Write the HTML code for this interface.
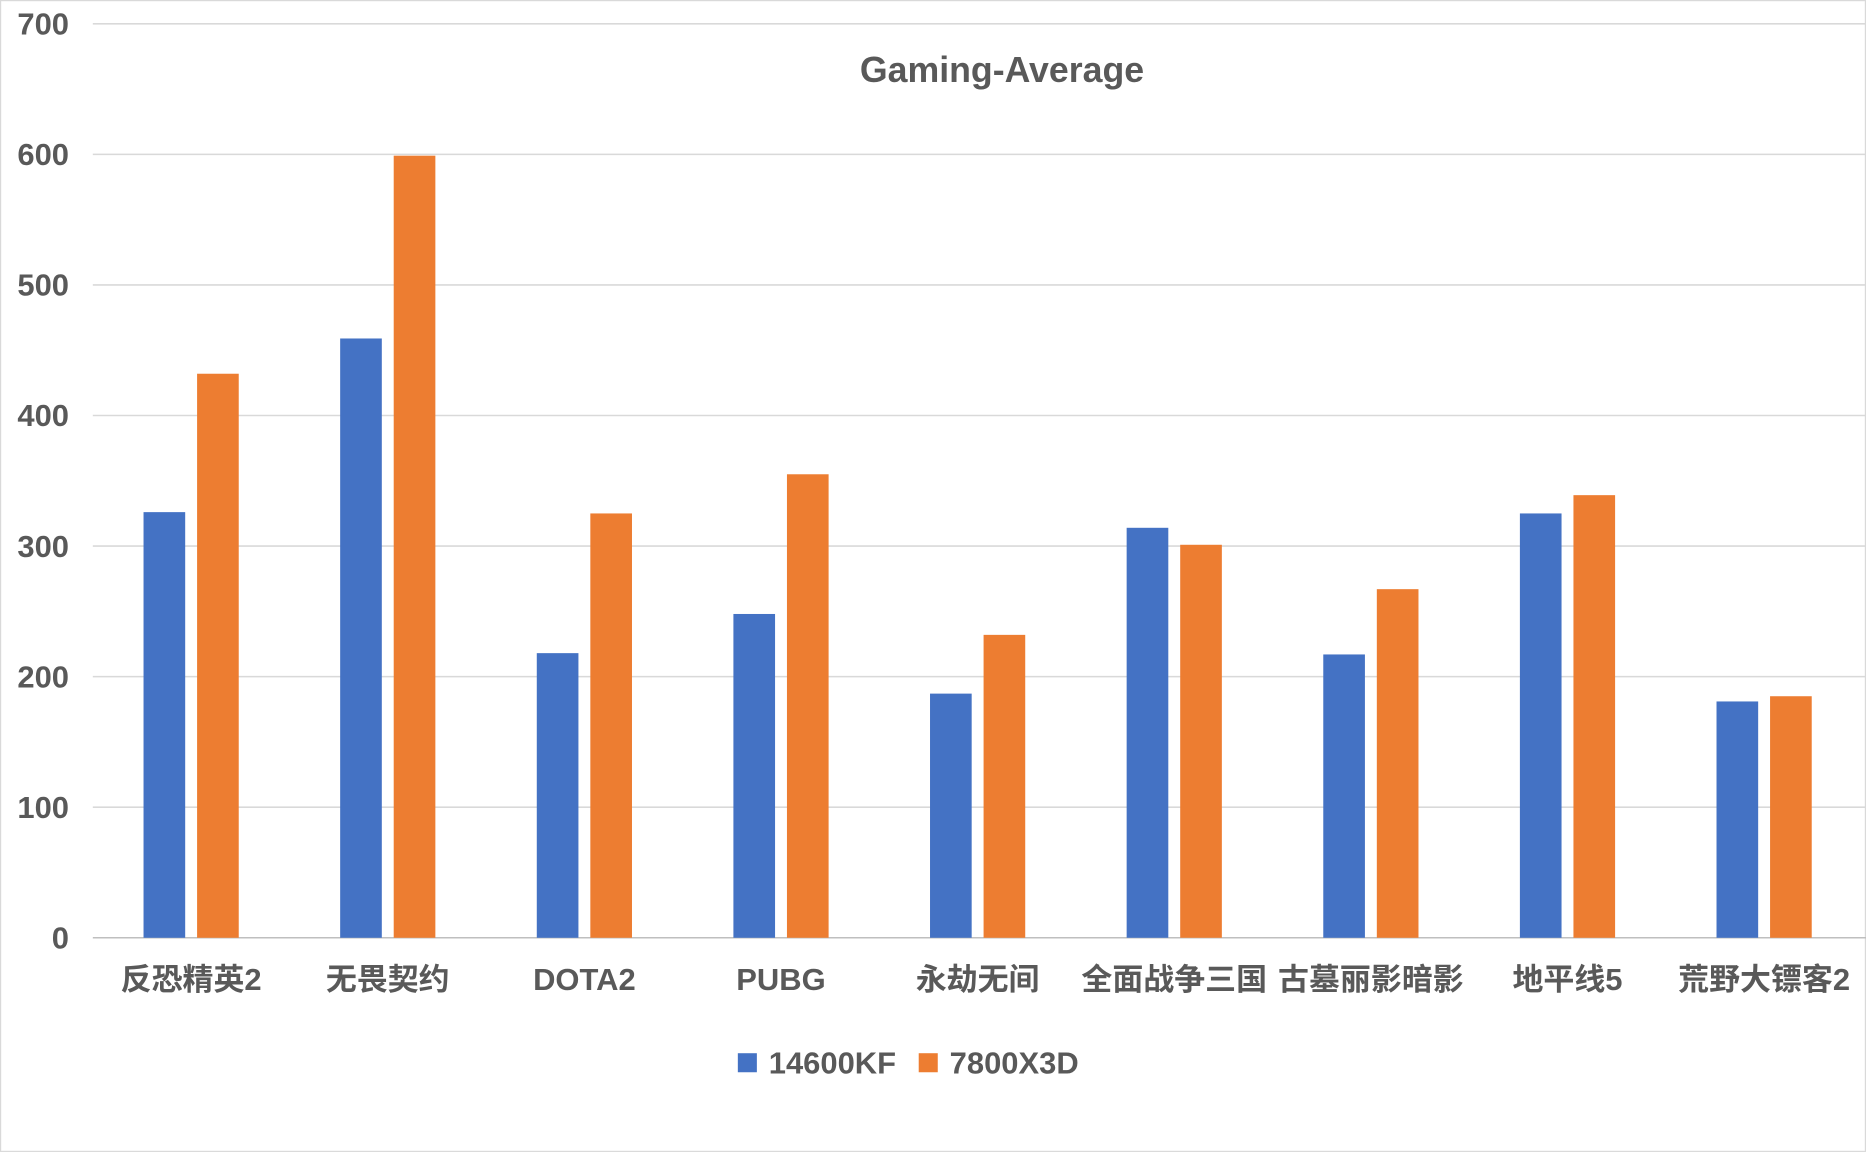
<!DOCTYPE html>
<html><head><meta charset="utf-8"><style>
html,body{margin:0;padding:0;background:#fff;}
svg{display:block;}
text{font-family:"Liberation Sans","Noto Sans CJK SC",sans-serif;font-weight:bold;fill:#595959;}
</style></head><body>
<svg id="chart" width="1866" height="1152" viewBox="0 0 1568 968" xmlns="http://www.w3.org/2000/svg">
<rect x="0.5" y="0.5" width="1567" height="967" fill="#fff" stroke="#d9d9d9"/>
<text x="842" y="69" font-size="30" text-anchor="middle" fill="#404040">Gaming-Average</text>
<g id="grid"></g><g id="bars"></g><g id="labels"></g>
<g>
<rect x="620" y="885" width="16" height="16" fill="#4472c4"/>
<text x="646" y="902" font-size="26">14600KF</text>
<rect x="772" y="885" width="16" height="16" fill="#ed7d31"/>
<text x="798" y="902" font-size="26">7800X3D</text>
</g>
</svg>
<script>
const categories=["反恐精英2","无畏契约","DOTA2","PUBG","永劫无间","全面战争三国","古墓丽影暗影","地平线5","荒野大镖客2"];
const seriesA=[326,459,218,248,187,314,217,325,181];
const seriesB=[432,599,325,355,232,301,267,339,185];
const ticks=[0,100,200,300,400,500,600,700];
const NS="http://www.w3.org/2000/svg";
const x0=78,x1=1568,xBandEnd=1565,yB=788,yT=20,maxV=700;
const y=v=>yB-(v/maxV)*(yB-yT);
const band=(xBandEnd-x0)/categories.length;
const cx=i=>x0+band*(i+0.5);
function mk(tag,attrs,parent){const e=document.createElementNS(NS,tag);for(const k in attrs)e.setAttribute(k,attrs[k]);document.getElementById(parent).appendChild(e);return e;}
ticks.forEach(t=>{
  const l=mk('line',{x1:x0,x2:x1,y1:y(t),y2:y(t),stroke:t===0?'#bfbfbf':'#d9d9d9','stroke-width':1.3},'grid');
  
  
  const tx=mk('text',{x:58,y:y(t)+9,'font-size':26,'text-anchor':'end'},'grid');
  tx.textContent=t;
  
  
});
categories.forEach((c,i)=>{
  const a=mk('rect',{x:cx(i)-40,y:y(seriesA[i]),width:35,height:yB-y(seriesA[i]),fill:'#4472c4'},'bars');
  
  
  const b=mk('rect',{x:cx(i)+5,y:y(seriesB[i]),width:35,height:yB-y(seriesB[i]),fill:'#ed7d31'},'bars');
  
  
  const t=mk('text',{x:cx(i),y:832,'font-size':26,'text-anchor':'middle'},'labels');
  t.textContent=c;
  
  
});
</script>
</body></html>
